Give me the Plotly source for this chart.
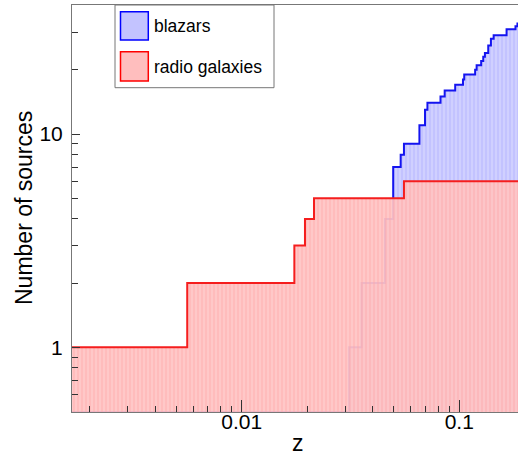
import numpy as np
import plotly.graph_objects as go

# ---------------- data ----------------
blazar_z = [0.00166, 0.0312, 0.0356, 0.0456, 0.0497, 0.0538, 0.0557, 0.0656,
            0.0696, 0.0714, 0.0820, 0.0857, 0.0958, 0.1040, 0.1054, 0.1183,
            0.1202, 0.1261, 0.1289, 0.1312, 0.1359, 0.1398, 0.1439, 0.1650,
            0.1813, 0.1851]
blazar_n = [0, 1, 2, 4, 7, 8, 9, 11, 13, 14, 15, 16, 17, 18, 19, 20, 21, 22,
            23, 24, 26, 28, 29, 31, 32, 33]

radio_z = [0.00166, 0.00562, 0.01746, 0.01954, 0.0215, 0.0557]
radio_n = [1, 2, 3, 4, 5, 6]

z_end = 0.19

x_tickvals = [0.01, 0.1]
x_ticktext = ["0.01", "0.1"]
y_tickvals = [1, 10]
y_ticktext = ["1", "10"]

# ---------------- layout geometry ----------------
W, H = 518, 457
ML, MR, MT, MB = 72, 0, 5, 45
PW, PH = W - ML - MR, H - MT - MB

x_range = [np.log10(0.00166), np.log10(0.1862)]
y_range = [-0.3033, 1.6048]
y_floor = 10 ** y_range[0]

FONT = "Liberation Sans, Arial, sans-serif"


def px(xp):
    return (xp - ML) / PW


def py(yp):
    return (MT + PH - yp) / PH


def step_xy(zs, ns):
    xs = list(zs) + [z_end]
    ys = [max(n, y_floor) for n in ns] + [max(ns[-1], y_floor)]
    return xs, ys


def fill_xy(zs, ns):
    xs, ys = step_xy(zs, ns)
    return [xs[0]] + xs + [xs[-1]], [y_floor] + ys + [y_floor]


fig = go.Figure()

bx, by = fill_xy(blazar_z, blazar_n)
fig.add_trace(go.Scatter(
    x=bx, y=by, mode="lines", line=dict(width=0, shape="hv"),
    fill="toself", fillcolor="rgb(205,205,255)",
    fillpattern=dict(shape="|", size=4, solidity=0.35,
                     bgcolor="rgb(208,208,255)", fgcolor="rgb(170,170,255)"),
    hoverinfo="skip", showlegend=False))

bx2, by2 = step_xy(blazar_z, blazar_n)
fig.add_trace(go.Scatter(
    x=bx2, y=by2, mode="lines", line=dict(width=2, color="rgb(20,20,240)", shape="hv"),
    hoverinfo="skip", showlegend=False))

rx, ry = fill_xy(radio_z, radio_n)
fig.add_trace(go.Scatter(
    x=rx, y=ry, mode="lines", line=dict(width=0, shape="hv"),
    fill="toself", fillcolor="rgba(255,192,192,0.93)",
    fillpattern=dict(shape="|", size=4, solidity=0.35,
                     bgcolor="rgba(255,196,196,0.93)", fgcolor="rgba(255,165,165,0.95)"),
    hoverinfo="skip", showlegend=False))

rx2, ry2 = step_xy(radio_z, radio_n)
fig.add_trace(go.Scatter(
    x=rx2, y=ry2, mode="lines", line=dict(width=2, color="rgb(245,30,30)", shape="hv"),
    hoverinfo="skip", showlegend=False))

x_minor = [k * 10 ** e for e in (-3, -2) for k in range(2, 10)]
x_minor = [v for v in x_minor if 10 ** x_range[0] < v < 10 ** x_range[1]]
y_minor = [0.6, 0.7, 0.8, 0.9] + list(range(2, 10)) + [20, 30]

fig.update_xaxes(
    type="log", range=x_range, showgrid=False, zeroline=False,
    showline=True, linecolor="#777", linewidth=1, mirror=True,
    ticks="inside", ticklen=12, tickcolor="#333", tickwidth=1,
    tickvals=x_tickvals, ticktext=x_ticktext,
    tickfont=dict(family=FONT, size=21, color="black"),
    ticklabelstandoff=-9,
    minor=dict(tickvals=x_minor, ticks="inside", ticklen=6, tickcolor="#333", showgrid=False),
)
fig.update_yaxes(
    type="log", range=y_range, showgrid=False, zeroline=False,
    showline=True, linecolor="#777", linewidth=1, mirror=False,
    ticks="inside", ticklen=8, tickcolor="#333", tickwidth=1,
    tickvals=y_tickvals, ticktext=y_ticktext,
    tickfont=dict(family=FONT, size=21, color="black"),
    ticklabelstandoff=4,
    minor=dict(tickvals=y_minor, ticks="inside", ticklen=6, tickcolor="#333", showgrid=False),
)

shapes = [
    # legend box
    dict(type="rect", xref="paper", yref="paper", x0=px(115), x1=px(274), y0=py(87.7), y1=py(5),
         line=dict(color="#777", width=1), fillcolor="white", layer="above"),
    dict(type="rect", xref="paper", yref="paper", x0=px(120.5), x1=px(148.3), y0=py(40), y1=py(11.7),
         line=dict(color="blue", width=1.5), fillcolor="rgb(195,195,255)", layer="above"),
    dict(type="rect", xref="paper", yref="paper", x0=px(120.5), x1=px(148.3), y0=py(81), y1=py(51.7),
         line=dict(color="red", width=1.5), fillcolor="rgb(255,190,190)", layer="above"),
]

annotations = [
    dict(text="blazars", xref="paper", yref="paper", x=px(152), y=py(26), xanchor="left",
         yanchor="middle", showarrow=False, font=dict(family=FONT, size=17.5, color="black")),
    dict(text="radio galaxies", xref="paper", yref="paper", x=px(152), y=py(67), xanchor="left",
         yanchor="middle", showarrow=False, font=dict(family=FONT, size=17.5, color="black")),
    dict(text="z", xref="paper", yref="paper", x=px(298), y=py(457), xanchor="center",
         yanchor="bottom", borderpad=0, showarrow=False,
         font=dict(family=FONT, size=23, color="black")),
    dict(text="Number of sources", xref="paper", yref="paper", x=px(24), y=py(208),
         xanchor="center", yanchor="middle", textangle=-90, showarrow=False,
         font=dict(family=FONT, size=23, color="black")),
]

fig.update_layout(
    width=W, height=H, margin=dict(l=ML, r=MR, t=MT, b=MB, pad=0),
    paper_bgcolor="white", plot_bgcolor="white",
    shapes=shapes, annotations=annotations, showlegend=False,
)

fig.write_html("out.html")
